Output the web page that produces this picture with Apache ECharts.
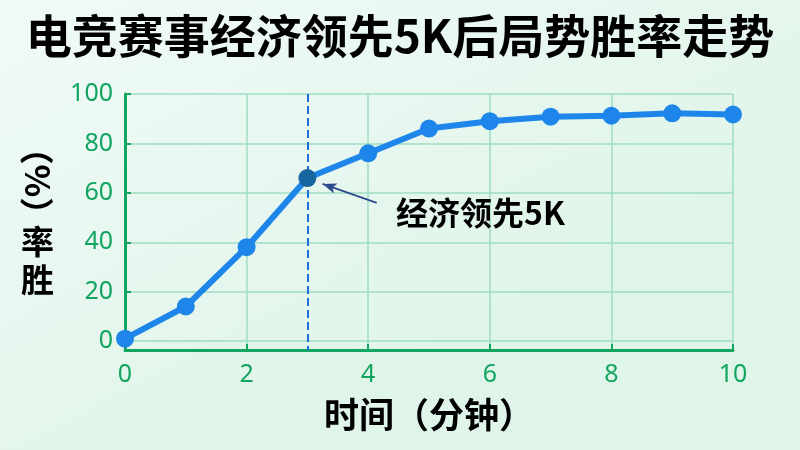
<!DOCTYPE html>
<html><head><meta charset="utf-8">
<script src="https://cdn.jsdelivr.net/npm/echarts@6/dist/echarts.min.js"></script>
<style>html,body{margin:0;padding:0;}#c{width:800px;height:450px;}</style>
</head><body><div id="c"></div>
<script>
const titleText = '电竞赛事经济领先5K后局势胜率走势';
const xName = '时间（分钟）';
const yNameMain = '\n\n率\n胜';
const yNameUnit = '（%）';
const minutes = [0,1,2,3,4,5,6,7,8,9,10];
const winRate = [1,14,38,66,76,86,89,90.8,91.2,92.2,91.7];
const yTicks = [0,20,40,60,80,100];
const markerMinute = 3;
const annotationText = '经济领先5K';
const arrowFrom = [4.14, 55.9];
const arrowTo = [3.25, 63.6];
const annotationAt = [4.45, 52];

const green = '#12a560';
const chart = echarts.init(document.getElementById('c'));
chart.setOption({
  backgroundColor: new echarts.graphic.LinearGradient(0,0,0.3,1,[{offset:0,color:'#f1faf8'},{offset:1,color:'#e0f5e9'}]),
  title: {text: titleText, left: 'center', top: 8,
    textStyle: {fontSize: 46, fontWeight: 'bold', color: '#000', fontFamily: 'Noto Sans CJK SC'}},
  graphic: [{type: 'text', x: 37, y: 181, rotation: Math.PI/2,
    style: {text: yNameUnit, fontSize: 34, fontWeight: 'bold', fill: '#000', fontFamily: 'Noto Sans CJK SC',
      align: 'center', verticalAlign: 'middle'}}],
  grid: {left: 125, right: 67, top: 94, bottom: 100, containLabel: false},
  xAxis: {type: 'value', min: 0, max: 10, interval: 2,
    name: xName, nameLocation: 'middle', nameGap: 47,
    nameTextStyle: {fontSize: 35, fontWeight: 'bold', color: '#000', fontFamily: 'Noto Sans CJK SC'},
    axisLine: {onZero: false, lineStyle: {color: green, width: 3}},
    axisTick: {show: true, inside: true, length: 6, lineStyle: {color: green, width: 2}},
    axisLabel: {color: green, fontSize: 25, margin: 12, fontFamily: 'Noto Sans'},
    splitLine: {show: true, lineStyle: {color: '#9fdcc3', width: 1.5}}
  },
  yAxis: {type: 'value', min: -3.6, max: 100,
    name: yNameMain, nameLocation: 'middle', nameGap: 71, nameRotate: 0,
    nameTextStyle: {fontSize: 33, fontWeight: 'bold', color: '#000', fontFamily: 'Noto Sans CJK SC',
      lineHeight: 38},
    axisLine: {show: true, lineStyle: {color: green, width: 3}},
    axisTick: {show: true, inside: true, length: 6, customValues: yTicks, lineStyle: {color: green, width: 2}},
    axisLabel: {color: green, fontSize: 25, margin: 12, customValues: yTicks, fontFamily: 'Noto Sans'},
    splitLine: {show: true, lineStyle: {color: '#9fdcc3', width: 1.5}}
  },
  series: [{
    type: 'line',
    data: minutes.map((m,i)=>[m, winRate[i]]),
    symbol: 'circle', symbolSize: 18,
    lineStyle: {color: '#1e86ea', width: 6},
    itemStyle: {color: function(p){ return p.data[0]===markerMinute ? '#17669f' : '#1e86ea'; }},
    z: 5,
    markLine: {
      silent: true,
      data: [
        [{xAxis: markerMinute, yAxis: 100, symbol: 'none', lineStyle: {type: 'dashed', color: '#1d6fe0', width: 2}},
         {xAxis: markerMinute, yAxis: -3.6, symbol: 'none'}],
        [{coord: arrowFrom, symbol: 'none', lineStyle: {type: 'solid', color: '#2b4c8c', width: 1.8}},
         {coord: arrowTo, symbol: 'arrow', symbolSize: [8, 14]}]
      ],
      label: {show: false},
      emphasis: {disabled: true}
    },
    markPoint: {
      silent: true,
      data: [{coord: annotationAt, symbol: 'circle', symbolSize: 1, itemStyle: {color: 'rgba(0,0,0,0)'},
        label: {show: true, formatter: annotationText, position: 'right', distance: 0,
          fontSize: 32, fontWeight: 'bold', color: '#000', fontFamily: 'Noto Sans CJK SC'}}]
    }
  }]
});
</script></body></html>
